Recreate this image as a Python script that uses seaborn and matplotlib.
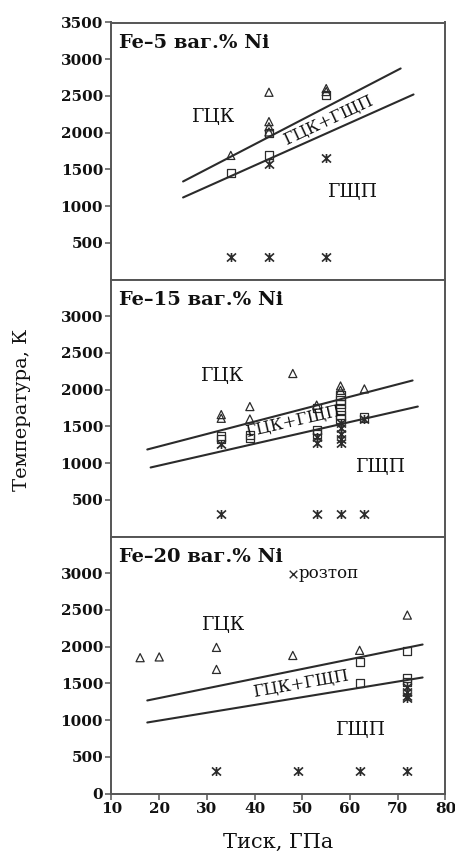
import matplotlib
matplotlib.use("Agg")
import matplotlib.pyplot as plt
from matplotlib.path import Path
import numpy as np
import pandas as pd
import seaborn as sns

sns.set_theme(style="ticks")
plt.rcParams["font.family"] = ["DejaVu Serif"]

INK = "#2b2b2b"
SPINE = "#555555"

# ---- Fe-5 wt.% Ni ----
p5_fcc_x = [35, 43, 43, 43, 43, 55, 55]
p5_fcc_t = [1690, 2550, 2150, 2080, 2010, 2600, 2560]
p5_mix_x = [35, 43, 43, 55]
p5_mix_t = [1450, 1690, 1990, 2510]
p5_hcp_x = [35, 43, 55, 43, 55]
p5_hcp_t = [300, 300, 300, 1570, 1660]
p5_upper_x = [25, 70.6]
p5_upper_t = [1335, 2874]
p5_lower_x = [25, 73.3]
p5_lower_t = [1117, 2520]

# ---- Fe-15 wt.% Ni ----
p15_fcc_x = [33, 33, 39, 39, 48, 53, 58, 58, 63]
p15_fcc_t = [1660, 1610, 1770, 1600, 2220, 1790, 2050, 1990, 2010]
p15_mix_x = [33, 33, 39, 39, 53, 53, 53, 58, 58, 58, 58, 58, 58, 63]
p15_mix_t = [1370, 1330, 1380, 1340, 1750, 1450, 1390, 1920, 1860, 1800, 1730, 1660, 1600, 1620]
p15_hcp_x = [33, 33, 53, 53, 53, 58, 58, 58, 58, 58, 58, 63, 63]
p15_hcp_t = [1260, 300, 1350, 1280, 300, 1550, 1480, 1400, 1330, 1270, 300, 1600, 300]
p15_upper_x = [17.5, 73.1]
p15_upper_t = [1185, 2125]
p15_lower_x = [18.2, 74.2]
p15_lower_t = [940, 1770]

# ---- Fe-20 wt.% Ni ----
p20_fcc_x = [16, 20, 32, 32, 48, 62, 72]
p20_fcc_t = [1850, 1860, 1990, 1690, 1880, 1950, 2430]
p20_mix_x = [62, 62, 72, 72, 72]
p20_mix_t = [1790, 1500, 1940, 1570, 1520]
p20_hcp_x = [32, 49, 62, 72, 72, 72, 72, 72]
p20_hcp_t = [300, 300, 300, 300, 1450, 1380, 1330, 1300]
p20_melt_x = [48]
p20_melt_t = [2990]
p20_upper_x = [17.5, 75.2]
p20_upper_t = [1267, 2029]
p20_lower_x = [17.5, 75.2]
p20_lower_t = [967, 1580]

titles = ["Fe\u20135 ваг.% Ni", "Fe\u201315 ваг.% Ni", "Fe\u201320 ваг.% Ni"]
x_ticks = [10, 20, 30, 40, 50, 60, 70, 80]

# "ж"-shaped marker: a vertical stroke crossed by two diagonals
STAR = Path(
    [(0, -1), (0, 1), (-1, -0.9), (1, 0.9), (-1, 0.9), (1, -0.9)],
    [Path.MOVETO, Path.LINETO, Path.MOVETO, Path.LINETO, Path.MOVETO, Path.LINETO],
)


def frame(x, t):
    return pd.DataFrame({"p": x, "T": t})


panels = [
    dict(fcc=(p5_fcc_x, p5_fcc_t), mix=(p5_mix_x, p5_mix_t), hcp=(p5_hcp_x, p5_hcp_t),
         melt=None, upper=(p5_upper_x, p5_upper_t), lower=(p5_lower_x, p5_lower_t),
         yticks=[500, 1000, 1500, 2000, 2500, 3000, 3500],
         fcc_lab=(31.4, 2210), hcp_lab=(60.7, 1185), two_lab=(55.3, 2170, 25)),
    dict(fcc=(p15_fcc_x, p15_fcc_t), mix=(p15_mix_x, p15_mix_t), hcp=(p15_hcp_x, p15_hcp_t),
         melt=None, upper=(p15_upper_x, p15_upper_t), lower=(p15_lower_x, p15_lower_t),
         yticks=[500, 1000, 1500, 2000, 2500, 3000],
         fcc_lab=(33.3, 2180), hcp_lab=(66.4, 950), two_lab=(48.0, 1566, 13)),
    dict(fcc=(p20_fcc_x, p20_fcc_t), mix=(p20_mix_x, p20_mix_t), hcp=(p20_hcp_x, p20_hcp_t),
         melt=(p20_melt_x, p20_melt_t), upper=(p20_upper_x, p20_upper_t), lower=(p20_lower_x, p20_lower_t),
         yticks=[0, 500, 1000, 1500, 2000, 2500, 3000],
         fcc_lab=(33.5, 2290), hcp_lab=(62.2, 860), two_lab=(49.6, 1500, 10)),
]

fig = plt.figure(figsize=(4.56, 8.57), dpi=100)
left, right = 111.5 / 456, 445.5 / 456
top_px, bot_px = 22.5, 793.5
h = (bot_px - top_px) / 3
axes = []
for i in range(3):
    y0 = 1 - (top_px + h * (i + 1)) / 857
    ax = fig.add_axes([left, y0, right - left, h / 857])
    axes.append(ax)

for i, (ax, pan) in enumerate(zip(axes, panels)):
    for key in ("upper", "lower"):
        sns.lineplot(data=frame(*pan[key]), x="p", y="T", ax=ax, color=INK,
                     linewidth=1.5, estimator=None, sort=False)
    sns.scatterplot(data=frame(*pan["fcc"]), x="p", y="T", ax=ax, marker="^",
                    s=34, facecolor="none", edgecolor=INK, linewidth=0.9, zorder=3)
    sns.scatterplot(data=frame(*pan["mix"]), x="p", y="T", ax=ax, marker="s",
                    s=34, facecolor="none", edgecolor=INK, linewidth=0.9, zorder=3)
    sns.scatterplot(data=frame(*pan["hcp"]), x="p", y="T", ax=ax, marker=STAR,
                    s=42, color=INK, edgecolor=None, linewidth=1.2, zorder=3)
    if pan["melt"] is not None:
        sns.scatterplot(data=frame(*pan["melt"]), x="p", y="T", ax=ax, marker="x",
                        s=30, color=INK, edgecolor=None, linewidth=1.0, zorder=3)
        ax.text(pan["melt"][0][0] + 1.2, pan["melt"][1][0], "розтоп",
                fontsize=12, va="center", ha="left", color="#111111")

    ax.set_xlim(10, 80)
    ax.set_ylim(0, 3500)
    ax.set_yticks(pan["yticks"])
    ax.set_xticks(x_ticks)
    ax.set_xlabel("")
    ax.set_ylabel("")
    if i < 2:
        ax.tick_params(axis="x", labelbottom=False)
    ax.tick_params(axis="both", direction="out", length=4, width=1.1,
                   color=SPINE, labelsize=11, labelcolor="#111111", pad=2)
    for lab in ax.get_yticklabels() + ax.get_xticklabels():
        lab.set_fontweight("bold")
    for sp in ax.spines.values():
        sp.set_visible(True)
        sp.set_color(SPINE)
        sp.set_linewidth(1.4)
    for tl in ax.xaxis.get_ticklines():
        tl.set_clip_on(False)

    ax.text(11.6, 3220, titles[i], fontsize=14, fontweight="bold",
            ha="left", va="center", color="#111111")
    ax.text(*pan["fcc_lab"], "ГЦК", fontsize=13.5, ha="center", va="center", color="#111111")
    ax.text(*pan["hcp_lab"], "ГЩП", fontsize=13.5, ha="center", va="center", color="#111111")
    tx, ty, rot = pan["two_lab"]
    ax.text(tx, ty, "ГЦК+ГЩП", fontsize=12, ha="center", va="center",
            rotation=rot, rotation_mode="anchor", color="#111111", zorder=4)

fig.text(22 / 456, 1 - 410 / 857, "Температура, К", rotation=90, fontsize=14,
         ha="center", va="center", color="#111111")
fig.text(278 / 456, 1 - 842 / 857, "Тиск, ГПа", fontsize=15,
         ha="center", va="center", color="#111111")

fig.savefig("out.png", dpi=100, facecolor="white")
